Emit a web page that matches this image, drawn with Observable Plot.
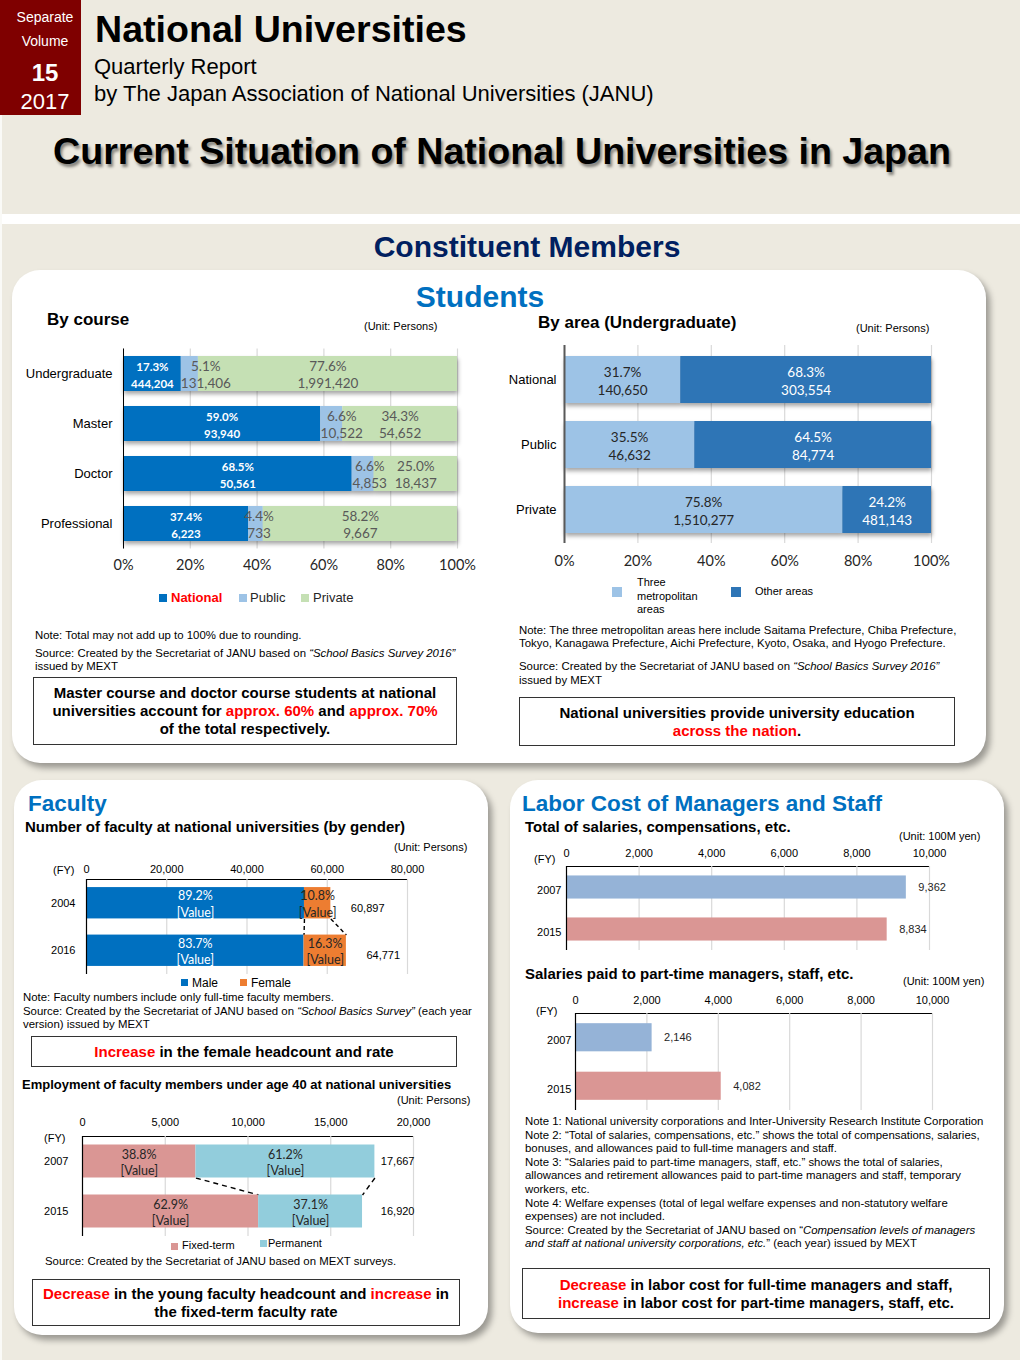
<!DOCTYPE html>
<html><head><meta charset="utf-8">
<script src="https://cdn.jsdelivr.net/npm/d3@7"></script>
<script src="https://cdn.jsdelivr.net/npm/@observablehq/plot@0.6"></script>
<style>
html,body{margin:0;padding:0;background:#edeae0;}
#root{position:relative;width:1020px;height:1360px;overflow:hidden;background:#edeae0;font-family:"Liberation Sans",Arial,sans-serif;color:#000;}
.t{position:absolute;white-space:nowrap;line-height:1.2;}
.panel{position:absolute;background:#fff;border-radius:28px;box-shadow:4px 5px 6px rgba(0,0,0,0.35);}
.box{position:absolute;border:1.5px solid #333;background:#fff;box-sizing:border-box;display:flex;align-items:center;justify-content:center;text-align:center;font-weight:bold;font-size:15px;line-height:18px;}
.box > div{white-space:nowrap;}
.red{color:#ff0000;}
.sw{position:absolute;}
svg{position:absolute;overflow:visible;}
</style></head><body><div id="root"></div>
<script>
// ================= DATA =================
const courses = ["Undergraduate", "Master", "Doctor", "Professional"];
const courseNational = [444204, 93940, 50561, 6223];
const coursePublic = [131406, 10522, 4853, 733];
const coursePrivate = [1991420, 54652, 18437, 9667];
const sectors = ["National", "Public", "Private"];

const areaSectors = ["National", "Public", "Private"];
const areaMetro = [140650, 46632, 1510277];
const areaOther = [303554, 84774, 481143];
const areaGroups = ["Three metropolitan areas", "Other areas"];

const pctTicks = [0, 0.2, 0.4, 0.6, 0.8, 1];

const facultyYears = ["2004", "2016"];
const facultyTotal = [60897, 64771];
const facultyMalePct = [89.2, 83.7];
const facultyFemalePct = [10.8, 16.3];
const genders = ["Male", "Female"];
const facultyTicks = [0, 20000, 40000, 60000, 80000];

const youngYears = ["2007", "2015"];
const youngTotal = [17667, 16920];
const youngFixedPct = [38.8, 62.9];
const youngPermPct = [61.2, 37.1];
const contracts = ["Fixed-term", "Permanent"];
const youngTicks = [0, 5000, 10000, 15000, 20000];

const laborYears = ["2007", "2015"];
const fullTimeCost = [9362, 8834];
const partTimeCost = [2146, 4082];
const laborTicks = [0, 2000, 4000, 6000, 8000, 10000];

// ================= STYLE =================
const C = {national:"#0070c0", public:"#9dc3e6", private:"#c5e0b4", metro:"#9dc3e6", other:"#2e75b6",
  male:"#0070c0", female:"#ed7d31", fixed:"#da9694", perm:"#92cddc", y2007:"#95b3d7", y2015:"#da9694"};
const fmt = d3.format(",");
const root = document.getElementById("root");
const ARIAL = "'Liberation Sans', Arial, sans-serif";
const CAL = "Lato, 'Open Sans', sans-serif";
const NOTE = "font-size:11.4px;";

function t(x, y, html, css = "", anchor = "start") {
  const d = document.createElement("div");
  d.className = "t";
  d.innerHTML = html;
  const tx = anchor === "middle" ? "-50%" : anchor === "end" ? "-100%" : "0";
  d.style.cssText = `left:${x}px;top:${y}px;transform:translate(${tx},-50%);` + css;
  root.appendChild(d);
  return d;
}
function div(cls, x, y, w, h, css = "", html = "") {
  const d = document.createElement("div");
  d.className = cls;
  d.style.cssText = `left:${x}px;top:${y}px;width:${w}px;height:${h}px;` + css;
  d.innerHTML = html;
  root.appendChild(d);
  return d;
}
function box(x, y, w, h, html) { return div("box", x, y, w, h, "", "<div>" + html + "</div>"); }
function place(svg, x, y) { svg.style.left = x + "px"; svg.style.top = y + "px"; root.appendChild(svg); return svg; }
function addShadow(svg, id) {
  const ns = "http://www.w3.org/2000/svg";
  const defs = document.createElementNS(ns, "defs");
  defs.innerHTML = `<filter id="${id}" x="-5%" y="-20%" width="115%" height="160%"><feDropShadow dx="1" dy="3" stdDeviation="2" flood-color="#000" flood-opacity="0.35"/></filter>`;
  svg.insertBefore(defs, svg.firstChild);
  svg.querySelectorAll('g[aria-label="bar"]').forEach(g => g.setAttribute("filter", `url(#${id})`));
}
const baseStyle = (ff, fs, col = "#000") => ({background: "none", overflow: "visible", fontFamily: ff, fontSize: fs, color: col});

// ================= BACKGROUND / HEADER =================
div("sw", 0, 214, 1020, 10, "background:#fff;");
div("sw", 0, 0, 2, 1360, "background:#fafaf7;");
div("sw", 0, 0, 81, 115, "background:#7f0000;");
t(45, 17, "Separate", "color:#fff;font-size:14px;", "middle");
t(45, 41, "Volume", "color:#fff;font-size:14px;", "middle");
t(45, 73, "15", "color:#fff;font-size:24px;font-weight:bold;", "middle");
t(45, 102, "2017", "color:#fff;font-size:22px;", "middle");
t(95, 30, "National Universities", "font-size:37.6px;font-weight:bold;");
t(94, 67, "Quarterly Report", "font-size:22px;");
t(94, 94, "by The Japan Association of National Universities (JANU)", "font-size:22px;");
t(502, 152, "Current Situation of National Universities in Japan", "font-size:37.6px;font-weight:bold;text-shadow:2px 3px 3px rgba(0,0,0,0.45);", "middle");

t(527, 247, "Constituent Members", "font-size:30px;font-weight:bold;color:#002060;", "middle");

// panels
div("panel", 12, 270, 974, 493);
div("panel", 14, 780, 474, 555);
div("panel", 510, 780, 494, 553);

// ================= STUDENTS: BY COURSE =================
t(480, 297, "Students", "font-size:30px;font-weight:bold;color:#0070c0;", "middle");
t(47, 320, "By course", "font-size:17px;font-weight:bold;");
t(364, 327, "(Unit: Persons)", "font-size:11px;");

const courseSeg = [];
courses.forEach((c, i) => {
  const vals = [courseNational[i], coursePublic[i], coursePrivate[i]];
  const tot = d3.sum(vals);
  let acc = 0;
  vals.forEach((v, j) => {
    const x1 = acc / tot; acc += v; const x2 = acc / tot;
    courseSeg.push({course: c, sector: sectors[j], value: v, x1, x2, pct: (v / tot * 100).toFixed(1) + "%", num: fmt(v)});
  });
});
const courseLabelX = d => d.sector === "Public" ? d.x1 + d.num.length * 0.0105 : (d.x1 + d.x2) / 2;

const chartCourse = Plot.plot({
  width: 460, height: 240,
  marginLeft: 103, marginRight: 23, marginTop: 8.5, marginBottom: 31.5,
  style: baseStyle(CAL, "14.5px", "#262626"),
  x: {domain: [0, 1], ticks: pctTicks, tickFormat: d3.format(".0%"), tickSize: 0, tickPadding: 11, label: null},
  y: {domain: courses, axis: null, paddingInner: 0.3, paddingOuter: 0.15},
  color: {domain: sectors, range: [C.national, C.public, C.private]},
  marks: [
    Plot.ruleX(pctTicks, {stroke: "#d9d9d9", strokeWidth: 1.2}),
    Plot.barX(courseSeg, {x1: "x1", x2: "x2", y: "course", fill: "sector"}),
    Plot.ruleX([0], {stroke: "#000", strokeWidth: 1}),
    Plot.text(courseSeg.filter(d => d.sector === "National"), {x: courseLabelX, y: "course", text: d => d.pct + "\n" + d.num,
      fill: "#fff", fontWeight: "bold", fontSize: 11.5, lineHeight: 1.5, fontFamily: CAL}),
    Plot.text(courseSeg.filter(d => d.sector !== "National"), {x: courseLabelX, y: "course", text: d => d.pct + "\n" + d.num,
      fill: "#595959", fontSize: 13.5, lineHeight: 1.28, fontFamily: CAL}),
    Plot.text(courses, {x: 0, y: d => d, text: d => d, textAnchor: "end", dx: -11, fontFamily: ARIAL, fontSize: 13, fill: "#000"})
  ]
});
addShadow(chartCourse, "shCourse");
place(chartCourse, 20, 340);

// legend
div("sw", 159, 594, 8, 8, "background:" + C.national);
t(171, 598, "National", "font-size:13px;font-weight:bold;color:#ff0000;");
div("sw", 239, 594, 8, 8, "background:" + C.public);
t(250, 598, "Public", "font-size:13px;color:#262626;");
div("sw", 301, 594, 8, 8, "background:" + C.private);
t(313, 598, "Private", "font-size:13px;color:#262626;");

t(35, 636, "Note: Total may not add up to 100% due to rounding.", NOTE);
t(35, 654, "Source: Created by the Secretariat of JANU based on <i>“School Basics Survey 2016”</i>", NOTE);
t(35, 667, "issued by MEXT", NOTE);
box(33, 677, 424, 68, "Master course and doctor course students at national<br>universities account for <span class='red'>approx. 60%</span> and <span class='red'>approx. 70%</span><br>of the total respectively.");

// ================= STUDENTS: BY AREA =================
t(538, 323, "By area (Undergraduate)", "font-size:17px;font-weight:bold;");
t(856, 329, "(Unit: Persons)", "font-size:11px;");

const areaSeg = [];
areaSectors.forEach((s, i) => {
  const vals = [areaMetro[i], areaOther[i]];
  const tot = d3.sum(vals);
  let acc = 0;
  vals.forEach((v, j) => {
    const x1 = acc / tot; acc += v; const x2 = acc / tot;
    areaSeg.push({sector: s, group: areaGroups[j], value: v, x1, x2, pct: (v / tot * 100).toFixed(1) + "%", num: fmt(v)});
  });
});

const chartArea = Plot.plot({
  width: 460, height: 235,
  marginLeft: 64, marginRight: 29, marginTop: 5, marginBottom: 32,
  style: baseStyle(CAL, "14.5px", "#262626"),
  x: {domain: [0, 1], ticks: pctTicks, tickFormat: d3.format(".0%"), tickSize: 0, tickPadding: 12, label: null},
  y: {domain: areaSectors, axis: null, paddingInner: 0.28, paddingOuter: 0.15},
  color: {domain: areaGroups, range: [C.metro, C.other]},
  marks: [
    Plot.ruleX(pctTicks, {stroke: "#d9d9d9", strokeWidth: 1.2}),
    Plot.barX(areaSeg, {x1: "x1", x2: "x2", y: "sector", fill: "group"}),
    Plot.ruleX([0], {stroke: "#595959", strokeWidth: 2}),
    Plot.text(areaSeg.filter(d => d.group === areaGroups[0]), {x: d => (d.x1 + d.x2) / 2, y: "sector", text: d => d.pct + "\n" + d.num,
      fill: "#262626", fontSize: 13.5, lineHeight: 1.4, fontFamily: CAL}),
    Plot.text(areaSeg.filter(d => d.group === areaGroups[1]), {x: d => (d.x1 + d.x2) / 2, y: "sector", text: d => d.pct + "\n" + d.num,
      fill: "#fff", fontSize: 13.5, lineHeight: 1.4, fontFamily: CAL}),
    Plot.text(areaSectors, {x: 0, y: d => d, text: d => d, textAnchor: "end", dx: -8, fontFamily: ARIAL, fontSize: 13, fill: "#000"})
  ]
});
addShadow(chartArea, "shArea");
place(chartArea, 500, 340);

div("sw", 612, 587, 10, 10, "background:" + C.metro);
t(637, 583, "Three", "font-size:11px;");
t(637, 597, "metropolitan", "font-size:11px;");
t(637, 610, "areas", "font-size:11px;");
div("sw", 731, 587, 10, 10, "background:" + C.other);
t(755, 592, "Other areas", "font-size:11px;");

t(519, 631, "Note: The three metropolitan areas here include Saitama Prefecture, Chiba Prefecture,", NOTE);
t(519, 644, "Tokyo, Kanagawa Prefecture, Aichi Prefecture, Kyoto, Osaka, and Hyogo Prefecture.", NOTE);
t(519, 667, "Source: Created by the Secretariat of JANU based on <i>“School Basics Survey 2016”</i>", NOTE);
t(519, 681, "issued by MEXT", NOTE);
box(519, 697, 436, 49, "National universities provide university education<br><span class='red'>across the nation</span>.");

// ================= FACULTY =================
t(28, 803, "Faculty", "font-size:22.5px;font-weight:bold;color:#0070c0;");
t(25, 827, "Number of faculty at national universities (by gender)", "font-size:15px;font-weight:bold;");
t(394, 848, "(Unit: Persons)", "font-size:11px;");
t(53, 871, "(FY)", "font-size:11px;");

const H = 0.33;
function stackSegs(years, totals, pcts, keys) {
  const out = [];
  years.forEach((yr, i) => {
    let acc = 0;
    keys.forEach((k, j) => {
      const v = totals[i] * pcts[j][i] / 100;
      out.push({i, year: yr, key: k, x1: acc, x2: acc + v, pct: pcts[j][i]});
      acc += v;
    });
  });
  return out;
}
function linkSegs(segs, keys) {
  return keys.map(k => {
    const a = segs.find(d => d.i === 0 && d.key === k), b = segs.find(d => d.i === 1 && d.key === k);
    return {x1: a.x2, x2: b.x2};
  });
}

const facSeg = stackSegs(facultyYears, facultyTotal, [facultyMalePct, facultyFemalePct], genders);
const facLinks = linkSegs(facSeg, genders);
const facTot = facultyYears.map((y, i) => ({i, total: facultyTotal[i]}));

const chartFac = Plot.plot({
  width: 440, height: 130,
  marginLeft: 66, marginRight: 53, marginTop: 24, marginBottom: 11,
  style: baseStyle(ARIAL, "11px", "#000"),
  x: {domain: [0, 80000], axis: "top", ticks: facultyTicks, tickFormat: fmt, tickSize: 0, tickPadding: 7, label: null, line: true},
  y: {domain: [-0.5, 1.5], reverse: true, axis: null},
  color: {domain: genders, range: [C.male, C.female]},
  marks: [
    Plot.ruleX(facultyTicks.slice(1), {stroke: "#d9d9d9", strokeWidth: 1.2}),
    Plot.link(facLinks, {x1: "x1", x2: "x2", y1: H, y2: 1 - H, stroke: "#000", strokeWidth: 1.4, strokeDasharray: "4,3"}),
    Plot.rect(facSeg, {x1: "x1", x2: "x2", y1: d => d.i - H, y2: d => d.i + H, fill: "key"}),
    Plot.ruleX([0], {stroke: "#000", strokeWidth: 1.2}),
    Plot.text(facSeg.filter(d => d.key === "Male"), {x: d => (d.x1 + d.x2) / 2, y: "i", text: d => d.pct.toFixed(1) + "%\n[Value]",
      fill: "#fff", fontSize: 12.5, lineHeight: 1.3, fontFamily: CAL}),
    Plot.text(facSeg.filter(d => d.key === "Female"), {x: d => (d.x1 + d.x2) / 2, y: "i", text: d => d.pct.toFixed(1) + "%\n[Value]",
      fill: "#262626", fontSize: 12.5, lineHeight: 1.3, fontFamily: CAL}),
    Plot.text(facTot, {x: "total", y: "i", text: d => fmt(d.total), textAnchor: "start", dx: 20, dy: 5, fontSize: 11}),
    Plot.text(facultyYears, {x: 0, y: (d, i) => i, text: d => d, textAnchor: "end", dx: -11, fontSize: 11})
  ]
});
place(chartFac, 20, 855);

div("sw", 181, 979, 7, 7, "background:" + C.male);
t(192, 983, "Male", "font-size:12px;");
div("sw", 240, 979, 7, 7, "background:" + C.female);
t(251, 983, "Female", "font-size:12px;");

t(23, 998, "Note: Faculty numbers include only full-time faculty members.", NOTE);
t(23, 1012, "Source: Created by the Secretariat of JANU based on <i>“School Basics Survey”</i> (each year", NOTE);
t(23, 1025, "version) issued by MEXT", NOTE);
box(31, 1036, 426, 31, "<span class='red'>Increase</span> in the female headcount and rate");

// ================= YOUNG FACULTY =================
t(22, 1085, "Employment of faculty members under age 40 at national universities", "font-size:13px;font-weight:bold;");
t(397, 1101, "(Unit: Persons)", "font-size:11px;");
t(44, 1139, "(FY)", "font-size:11px;");

const youngSeg = stackSegs(youngYears, youngTotal, [youngFixedPct, youngPermPct], contracts);
const youngLinks = linkSegs(youngSeg, contracts);

const chartYoung = Plot.plot({
  width: 440, height: 135,
  marginLeft: 62, marginRight: 47, marginTop: 26, marginBottom: 9,
  style: baseStyle(ARIAL, "11px", "#000"),
  x: {domain: [0, 20000], axis: "top", ticks: youngTicks, tickFormat: fmt, tickSize: 0, tickPadding: 11, label: null, line: true},
  y: {domain: [-0.5, 1.5], reverse: true, axis: null},
  color: {domain: contracts, range: [C.fixed, C.perm]},
  marks: [
    Plot.ruleX(youngTicks.slice(1), {stroke: "#d9d9d9", strokeWidth: 1.2}),
    Plot.link(youngLinks, {x1: "x1", x2: "x2", y1: H, y2: 1 - H, stroke: "#000", strokeWidth: 1.4, strokeDasharray: "5,4"}),
    Plot.rect(youngSeg, {x1: "x1", x2: "x2", y1: d => d.i - H, y2: d => d.i + H, fill: "key"}),
    Plot.ruleX([0], {stroke: "#000", strokeWidth: 1.2}),
    Plot.text(youngSeg, {x: d => (d.x1 + d.x2) / 2, y: "i", text: d => d.pct.toFixed(1) + "%\n[Value]",
      fill: "#262626", fontSize: 12.5, lineHeight: 1.3, fontFamily: CAL}),
    Plot.text(youngTotal, {frameAnchor: "right", y: (d, i) => i, text: d => fmt(d), textAnchor: "end", dx: 1, fontSize: 11}),
    Plot.text(youngYears, {x: 0, y: (d, i) => i, text: d => d, textAnchor: "end", dx: -14, fontSize: 11})
  ]
});
place(chartYoung, 20, 1110);

div("sw", 171, 1243, 7, 7, "background:" + C.fixed);
t(182, 1246, "Fixed-term", "font-size:11px;");
div("sw", 260, 1240, 7, 7, "background:" + C.perm);
t(268, 1244, "Permanent", "font-size:11px;");
t(45, 1262, "Source: Created by the Secretariat of JANU based on MEXT surveys.", NOTE);
box(32, 1279, 428, 47, "<span class='red'>Decrease</span> in the young faculty headcount and <span class='red'>increase</span> in<br>the fixed-term faculty rate");

// ================= LABOR COST =================
t(522, 803, "Labor Cost of Managers and Staff", "font-size:22.5px;font-weight:bold;color:#0070c0;");
t(525, 827, "Total of salaries, compensations, etc.", "font-size:15px;font-weight:bold;");
t(899, 837, "(Unit: 100M yen)", "font-size:11px;");
t(534, 860, "(FY)", "font-size:11px;");

function laborChart(values, HH, opts) {
  const rows = laborYears.map((y, i) => ({i, year: y, value: values[i]}));
  return Plot.plot({
    width: 480, height: opts.height,
    marginLeft: opts.ml, marginRight: opts.mr, marginTop: opts.mt, marginBottom: 5,
    style: baseStyle(ARIAL, "11px", "#000"),
    x: {domain: [0, 10000], axis: "top", ticks: laborTicks, tickFormat: fmt, tickSize: 0, tickPadding: opts.tp, label: null, line: true},
    y: {domain: [-0.5, 1.5], reverse: true, axis: null},
    color: {domain: laborYears, range: [C.y2007, C.y2015]},
    marks: [
      Plot.ruleX(laborTicks.slice(1), {stroke: "#d9d9d9", strokeWidth: 1.2}),
      Plot.rect(rows, {x1: 0, x2: "value", y1: d => d.i - HH, y2: d => d.i + HH, fill: "year"}),
      Plot.ruleX([0], {stroke: "#000", strokeWidth: 1.2}),
      Plot.text(rows, {x: "value", y: "i", text: d => fmt(d.value), textAnchor: "start", dx: 12, fontSize: 11, fill: "#262626"}),
      Plot.text(rows, {x: 0, y: "i", text: "year", textAnchor: "end", dx: opts.ydx, dy: 3, fontSize: 11})
    ]
  });
}
place(laborChart(fullTimeCost, 0.275, {height: 115, ml: 61, mr: 56, mt: 26, tp: 10, ydx: -5}), 505, 840);

t(525, 974, "Salaries paid to part-time managers, staff, etc.", "font-size:15px;font-weight:bold;");
t(903, 982, "(Unit: 100M yen)", "font-size:11px;");
t(536, 1012, "(FY)", "font-size:11px;");
place(laborChart(partTimeCost, 0.29, {height: 130, ml: 70, mr: 53, mt: 28, tp: 10, ydx: -4}), 505, 985);

const notes = [
  "Note 1: National university corporations and Inter-University Research Institute Corporation",
  "Note 2: “Total of salaries, compensations, etc.” shows the total of compensations, salaries,",
  "bonuses, and allowances paid to full-time managers and staff.",
  "Note 3: “Salaries paid to part-time managers, staff, etc.” shows the total of salaries,",
  "allowances and retirement allowances paid to part-time managers and staff, temporary",
  "workers, etc.",
  "Note 4: Welfare expenses (total of legal welfare expenses and non-statutory welfare",
  "expenses) are not included.",
  "Source: Created by the Secretariat of JANU based on “<i>Compensation levels of managers</i>",
  "<i>and staff at national university corporations, etc.</i>” (each year) issued by MEXT"
];
notes.forEach((n, k) => t(525, 1122 + k * 13.6, n, NOTE));
box(522, 1268, 468, 51, "<span class='red'>Decrease</span> in labor cost for full-time managers and staff,<br><span class='red'>increase</span> in labor cost for part-time managers, staff, etc.");
</script></body></html>
